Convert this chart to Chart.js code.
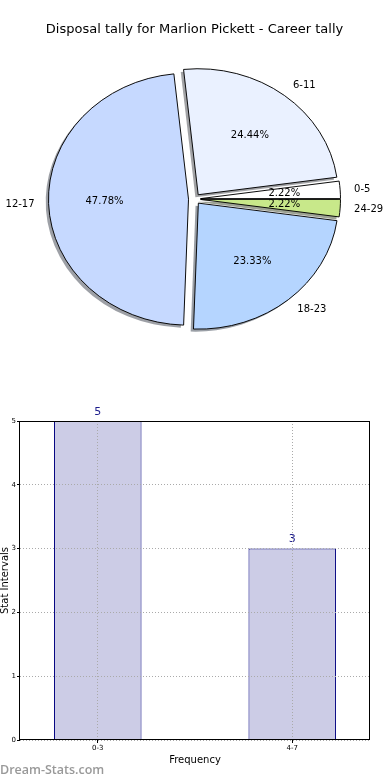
<!DOCTYPE html>
<html>
<head>
<meta charset="utf-8">
<script src="https://cdn.jsdelivr.net/npm/chart.js@4"></script>
<style>
  body { margin: 0; background: #fff; width: 390px; height: 780px; position: relative; overflow: hidden; }
  canvas { display: block; position: absolute; left: 0; }
  #pieChart { top: 0; }
  #barChart { top: 360px; }
  #mark { position: absolute; left: 0; top: 761px; font: 600 12.5px "Open Sans"; color: #999; }
</style>
</head>
<body>
<canvas id="pieChart" width="390" height="360"></canvas>
<canvas id="barChart" width="390" height="420"></canvas>
<div id="mark">Dream-Stats.com</div>
<script>
// pie: disposal ranges
const pieLabels = ['0-5', '6-11', '12-17', '18-23', '24-29'];
const pieCounts = [2, 22, 43, 21, 2];
const pieColors = ['#ffffff', '#eaf1ff', '#c6d9ff', '#b5d5ff', '#c8e88a'];

// bar: frequency of stat intervals
const barLabels = ['0-3', '4-7'];
const barValues = [5, 3];
const yTicks = [0, 1, 2, 3, 4, 5];

const FONT = 'DejaVu Sans';
const SQUASH = 0.9;     // the pie is drawn a bit flattened
const EXPLODE = 6;
const SHADOW_DX = -2.8, SHADOW_DY = 2.8;

function shadowOf(hex) {
    const n = parseInt(hex.slice(1), 16);
    const r = (n >> 16) & 255, g = (n >> 8) & 255, b = n & 255;
    return `rgba(${Math.round(r * 0.3)}, ${Math.round(g * 0.3)}, ${Math.round(b * 0.3)}, 0.5)`;
}

// slices go counter-clockwise from the right, so feed them reversed
const total = pieCounts.reduce((a, b) => a + b, 0);
const revLabels = pieLabels.slice().reverse();
const revCounts = pieCounts.slice().reverse();
const revColors = pieColors.slice().reverse();

const pieDraw = {
    id: 'pieDraw',
    beforeDatasetDraw(chart, args) {
        const ctx = chart.ctx;
        const arcs = args.meta.data;
        const cx = arcs[0].x, cy = arcs[0].y;
        ctx.save();
        ctx.translate(cx, cy);
        ctx.scale(1, SQUASH);
        ctx.translate(-cx, -cy);
        arcs.forEach((arc, i) => {
            const mid = (arc.startAngle + arc.endAngle) / 2;
            const x = arc.x + Math.cos(mid) * EXPLODE + SHADOW_DX;
            const y = arc.y + Math.sin(mid) * EXPLODE + SHADOW_DY;
            ctx.beginPath();
            ctx.moveTo(x, y);
            ctx.arc(x, y, arc.outerRadius, arc.startAngle, arc.endAngle);
            ctx.closePath();
            ctx.fillStyle = shadowOf(revColors[i]);
            ctx.fill();
        });
        arcs.forEach(arc => {
            const mid = (arc.startAngle + arc.endAngle) / 2;
            ctx.save();
            ctx.translate(Math.cos(mid) * EXPLODE, Math.sin(mid) * EXPLODE);
            arc.draw(ctx);
            ctx.restore();
        });
        ctx.restore();
        return false;
    },
    afterDatasetsDraw(chart) {
        const ctx = chart.ctx;
        const arcs = chart.getDatasetMeta(0).data;
        ctx.save();
        ctx.font = '10px ' + FONT;
        ctx.fillStyle = '#000';
        ctx.textBaseline = 'middle';
        arcs.forEach((arc, i) => {
            const mid = (arc.startAngle + arc.endAngle) / 2;
            const c = Math.cos(mid), s = Math.sin(mid);
            const rl = EXPLODE + 1.1 * arc.outerRadius;
            ctx.textAlign = c > 0 ? 'left' : 'right';
            ctx.fillText(revLabels[i], arc.x + c * rl, arc.y + s * rl * SQUASH);
            const rp = EXPLODE + 0.6 * arc.outerRadius;
            ctx.textAlign = 'center';
            const pct = (revCounts[i] / total * 100).toFixed(2) + '%';
            ctx.fillText(pct, arc.x + c * rp, arc.y + s * rp * SQUASH);
        });
        ctx.restore();
    }
};

new Chart(document.getElementById('pieChart'), {
    type: 'pie',
    data: {
        labels: revLabels,
        datasets: [{
            data: revCounts,
            backgroundColor: revColors,
            borderColor: '#000',
            borderWidth: 1,
            radius: 140
        }]
    },
    options: {
        responsive: false,
        animation: false,
        rotation: 90,
        layout: { padding: { left: 0, right: 1, top: 0, bottom: 9.6 } },
        plugins: {
            legend: { display: false },
            tooltip: { enabled: false },
            title: {
                display: true,
                text: 'Disposal tally for Marlion Pickett - Career tally',
                color: '#000',
                font: { family: FONT, size: 13, weight: 'normal' },
                padding: { top: 22, bottom: 10 }
            }
        }
    },
    plugins: [pieDraw]
});

const barExtras = {
    id: 'barExtras',
    afterDatasetsDraw(chart) {
        const ctx = chart.ctx;
        const bars = chart.getDatasetMeta(0).data;
        ctx.save();
        ctx.font = '11px ' + FONT;
        ctx.fillStyle = '#1c1c8c';
        ctx.textAlign = 'center';
        ctx.textBaseline = 'middle';
        bars.forEach((bar, i) => ctx.fillText(String(barValues[i]), bar.x, bar.y - 9));
        ctx.restore();
    },
    afterDraw(chart) {
        const { left, top, width, height } = chart.chartArea;
        const ctx = chart.ctx;
        ctx.save();
        ctx.strokeStyle = '#000';
        ctx.lineWidth = 1;
        ctx.strokeRect(Math.round(left) - 0.5, Math.round(top) + 0.5, Math.round(width), Math.round(height) - 1);
        ctx.restore();
    }
};

new Chart(document.getElementById('barChart'), {
    type: 'bar',
    data: {
        datasets: [{
            data: barValues.map((v, i) => ({ x: i, y: v })),
            backgroundColor: 'rgb(204, 204, 230)',
            borderColor: '#000080',
            borderWidth: 1,
            categoryPercentage: 1,
            barPercentage: 0.45
        }]
    },
    options: {
        responsive: false,
        animation: false,
        layout: { padding: { left: 0, right: 20, top: 61, bottom: 14 } },
        plugins: { legend: { display: false }, tooltip: { enabled: false } },
        scales: {
            x: {
                type: 'linear',
                min: -0.4,
                max: 1.4,
                offset: false,
                afterBuildTicks: s => { s.ticks = barLabels.map((_, i) => ({ value: i })); },
                afterFit: s => { s.height = 26; },
                ticks: {
                    callback: v => barLabels[v],
                    color: '#000',
                    font: { family: FONT, size: 7 },
                    padding: 1,
                    maxRotation: 0
                },
                grid: { offset: false, color: '#aaa', z: 1, tickLength: 3, tickColor: '#000', tickBorderDash: [] },
                border: { display: false, dash: [1, 2] },
                title: {
                    display: true,
                    text: 'Frequency',
                    color: '#000',
                    font: { family: FONT, size: 10, lineHeight: 1.2 },
                    padding: 0
                }
            },
            y: {
                min: 0,
                max: 5,
                afterBuildTicks: s => { s.ticks = yTicks.map(v => ({ value: v })); },
                afterFit: s => { s.width = 20; },
                ticks: {
                    color: '#000',
                    font: { family: FONT, size: 7 },
                    padding: 1
                },
                grid: { color: '#aaa', z: 1, tickLength: 3, tickColor: '#000', tickBorderDash: [] },
                border: { display: false, dash: [1, 2] },
                title: {
                    display: true,
                    text: 'Stat Intervals',
                    color: '#000',
                    font: { family: FONT, size: 10, lineHeight: 1 },
                    padding: 0
                }
            }
        }
    },
    plugins: [barExtras]
});
</script>
</body>
</html>
